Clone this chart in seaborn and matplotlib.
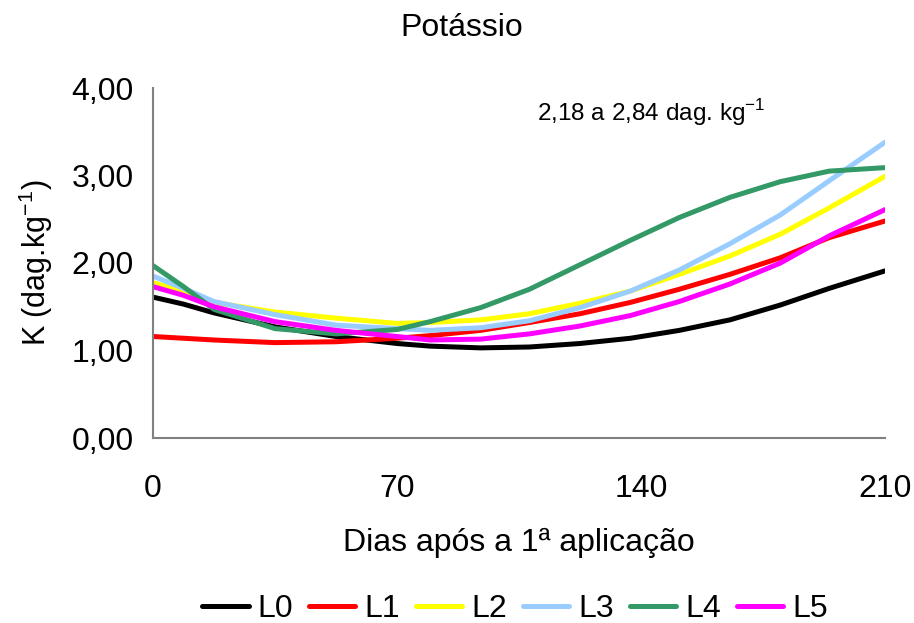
import matplotlib
matplotlib.use("Agg")
import matplotlib.pyplot as plt
import seaborn as sns
import pandas as pd

days = [0, 8.75, 17.5, 35, 52.5, 70, 79.5, 94, 108, 122.5, 137, 151, 165.5, 180, 194, 210]
L0 = [1.61, 1.53, 1.43, 1.27, 1.16, 1.08, 1.05, 1.03, 1.04, 1.08, 1.14, 1.23, 1.35, 1.52, 1.71, 1.91]
L1 = [1.16, 1.14, 1.12, 1.09, 1.10, 1.14, 1.17, 1.23, 1.32, 1.42, 1.55, 1.70, 1.87, 2.06, 2.29, 2.48]
L2 = [1.775, 1.68, 1.55, 1.44, 1.37, 1.31, 1.32, 1.35, 1.42, 1.54, 1.68, 1.87, 2.08, 2.33, 2.63, 2.99]
L3 = [1.85, 1.71, 1.56, 1.41, 1.29, 1.25, 1.23, 1.26, 1.34, 1.49, 1.68, 1.92, 2.22, 2.55, 2.94, 3.38]
L4 = [1.97, 1.73, 1.47, 1.25, 1.19, 1.24, 1.33, 1.49, 1.70, 1.98, 2.26, 2.52, 2.75, 2.93, 3.05, 3.09]
L5 = [1.73, 1.63, 1.50, 1.33, 1.23, 1.16, 1.12, 1.13, 1.19, 1.28, 1.40, 1.56, 1.76, 2.00, 2.31, 2.61]

series = {"L0": L0, "L1": L1, "L2": L2, "L3": L3, "L4": L4, "L5": L5}
colors = ["#000000", "#FF0000", "#FFFF00", "#99CCFF", "#339966", "#FF00FF"]

rows = []
for name, vals in series.items():
    for d, v in zip(days, vals):
        rows.append({"Dias": d, "K": v, "Série": name})
df = pd.DataFrame(rows)

sns.set_style("white")
plt.rcParams["font.family"] = ["Liberation Sans", "DejaVu Sans"]
plt.rcParams["text.color"] = "black"
plt.rcParams["axes.labelcolor"] = "black"
plt.rcParams["xtick.color"] = "black"
plt.rcParams["ytick.color"] = "black"

fig = plt.figure(figsize=(9.14, 6.23), dpi=100)
ax = fig.add_axes([153/914, 1-438/623, (885-153)/914, (438-88)/623])

sns.lineplot(data=df, x="Dias", y="K", hue="Série", palette=colors,
             linewidth=3.6, sort=False, ax=ax, legend=True)

ax.set_xlim(0, 210)
ax.set_ylim(0, 4)
ax.set_xticks([0, 70, 140, 210])
ax.set_yticks([0, 1, 2, 3, 4])
ax.set_yticklabels(["0,00", "1,00", "2,00", "3,00", "4,00"])
ax.tick_params(axis="both", labelsize=23, length=8, width=1, color="#404040", direction="out")
ax.tick_params(axis="x", pad=18)
ax.tick_params(axis="y", pad=6)
for s in ["top", "right"]:
    ax.spines[s].set_visible(False)
for s in ["left", "bottom"]:
    ax.spines[s].set_color("#808080")
    ax.spines[s].set_linewidth(1.5)

ax.set_xlabel("Dias após a 1ª aplicação", fontsize=23, labelpad=17)
ax.set_ylabel("K (dag.kg$^{\\mathregular{-1}}$)", fontsize=22, labelpad=12)
fig.text(462/914, 1-28/623, "Potássio", fontsize=23, ha="center", va="center")
ax.text(0.525, 0.93, "2,18 a 2,84 dag. kg$^{\\mathregular{-1}}$", transform=ax.transAxes,
        fontsize=17.5, ha="left", va="center")

handles, labels = ax.get_legend_handles_labels()
ax.legend(handles, labels, loc="center", bbox_to_anchor=(515/914, 1-609/623),
          bbox_transform=fig.transFigure, ncol=6, frameon=False, fontsize=23,
          handlelength=1.45, handletextpad=0.28, columnspacing=0.5)

fig.savefig("out.png", dpi=100)
